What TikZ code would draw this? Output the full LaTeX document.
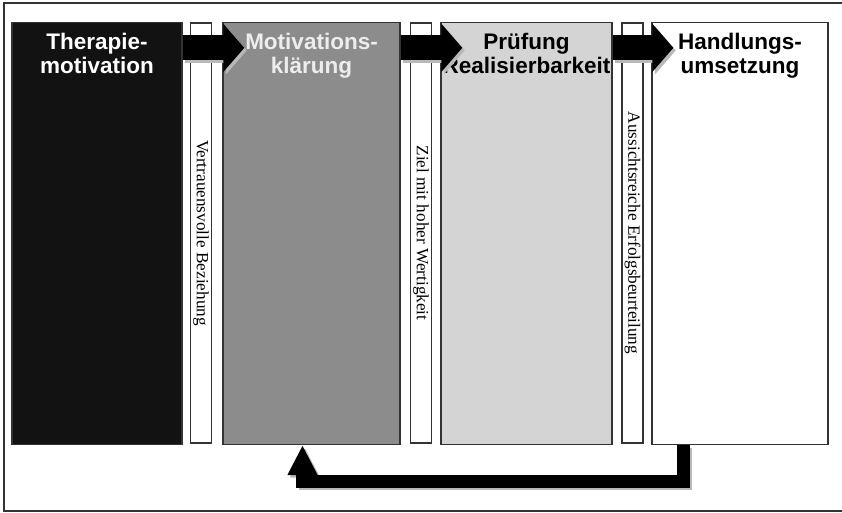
\documentclass[tikz,border=0pt]{standalone}
\usepackage{fontspec}
\setmainfont{Liberation Serif}
\setsansfont{Liberation Sans}
\usetikzlibrary{arrows.meta}

\definecolor{boxline}{gray}{0.2}
\definecolor{darkfill}{gray}{0.07}
\definecolor{midfill}{gray}{0.55}
\definecolor{lightfill}{gray}{0.83}

\tikzset{
  phase/.style={draw=boxline, line width=1.3pt, minimum width=#1, minimum height=422pt, inner sep=0pt},
  strip/.style={draw=boxline, fill=white, line width=1.3pt, rotate=-90, minimum width=420pt, minimum height=21pt, inner sep=0pt, font=\fontsize{17.2}{18}\selectfont},
  phasetext/.style={anchor=north, align=center, inner sep=0pt, font=\sffamily\bfseries\fontsize{22.5}{23.5}\selectfont},
  blockarrow/.style={line width=25pt, -{Triangle[length=21pt,width=47pt]}},
  backarrow/.style={line width=13pt, line join=miter, -{Triangle[length=30pt,width=28pt]}},
  shadowed/.style={gray!55, transform canvas={xshift=2.5pt,yshift=-2.5pt}}
}

\begin{document}
\begin{tikzpicture}[x=1pt,y=-1pt]
\useasboundingbox (0,0) rectangle (842,513);
\draw[boxline, line width=1.2pt] (842,3) -- (4,3) -- (4,511) -- (842,511);

% Phasen
\node[phase=170pt, fill=darkfill] (thera) at (97,233.5) {};
\node[phase=177pt, fill=midfill] (mot) at (311.5,233.5) {};
\node[phase=171pt, fill=lightfill] (pruef) at (526.5,233.5) {};
\node[phase=176pt, fill=white] (hand) at (740,233.5) {};

\node[phasetext, white] (theratext) at ([yshift=-11.5pt]thera.north) {Therapie-\\motivation};
\node[phasetext, white!93!black] (mottext) at ([yshift=-11.5pt]mot.north) {Motivations-\\klärung};
\node[phasetext] (prueftext) at ([yshift=-11.5pt]pruef.north) {Prüfung\\Realisierbarkeit};
\node[phasetext] (handtext) at ([yshift=-11.5pt]hand.north) {Handlungs-\\umsetzung};

% Zwischenschritte
\node[strip] (vertrauen) at (201,233) {Vertrauensvolle Beziehung};
\node[strip] (ziel) at (421,233) {Ziel mit hoher Wertigkeit};
\node[strip] (erfolg) at (632.5,233) {Aussichtsreiche Erfolgsbeurteilung};

% Pfeile
\draw[blockarrow, shadowed] ([yshift=-26pt]thera.north east) -- ([xshift=22pt,yshift=-26pt]mot.north west);
\draw[blockarrow] ([yshift=-26pt]thera.north east) -- ([xshift=22pt,yshift=-26pt]mot.north west);
\draw[blockarrow, shadowed] ([yshift=-26pt]mot.north east) -- ([xshift=22pt,yshift=-26pt]pruef.north west);
\draw[blockarrow] ([yshift=-26pt]mot.north east) -- ([xshift=22pt,yshift=-26pt]pruef.north west);
\draw[blockarrow, shadowed] ([yshift=-26pt]pruef.north east) -- ([xshift=22pt,yshift=-26pt]hand.north west);
\draw[blockarrow] ([yshift=-26pt]pruef.north east) -- ([xshift=22pt,yshift=-26pt]hand.north west);

\draw[backarrow, shadowed] ([xshift=-57pt]hand.south) |- ([xshift=-9pt,yshift=-36pt]mot.south) -- ([xshift=-9pt]mot.south);
\draw[backarrow] ([xshift=-57pt]hand.south) |- ([xshift=-9pt,yshift=-36pt]mot.south) -- ([xshift=-9pt]mot.south);
\end{tikzpicture}
\end{document}
